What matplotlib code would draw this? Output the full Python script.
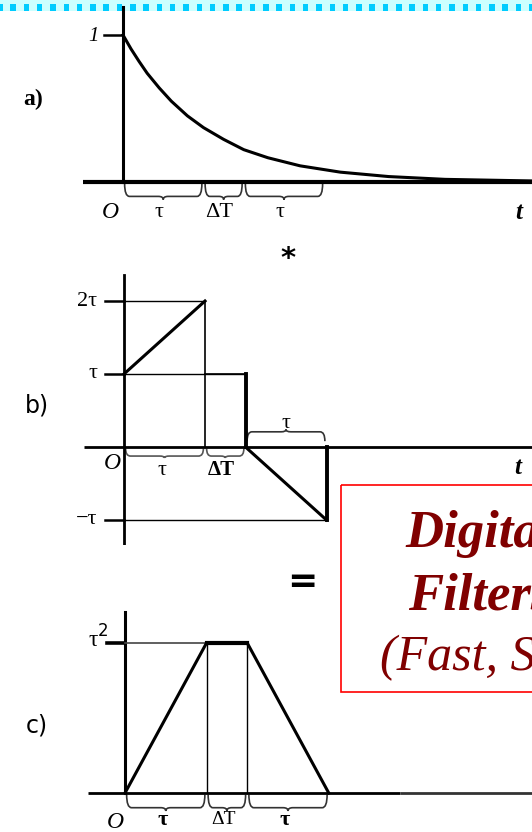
import numpy as np
import matplotlib.pyplot as plt
from matplotlib.path import Path
from matplotlib.patches import PathPatch, Rectangle

# time in units of tau, amplitude in units of 1 (a), tau (b), tau^2 (c)
tau = 1.0
dT = 0.5

# a) exponential pulse
t_exp = [0.0, 0.1, 0.2, 0.3, 0.45, 0.6, 0.8, 1.0, 1.25, 1.5, 1.8, 2.2, 2.7, 3.3, 4.0, 5.2]
y_exp = [1.0, 0.905, 0.82, 0.74, 0.64, 0.55, 0.45, 0.37, 0.29, 0.22, 0.165, 0.11, 0.067, 0.037, 0.018, 0.006]

# b) kernel
t_ker = [0.0, 1.0, 1.0, 1.5, 1.5, 2.5, 2.5]
y_ker = [1.0, 2.0, 1.0, 1.0, 0.0, -1.0, 0.0]

# c) trapezoid result
t_trap = [0.0, 1.0, 1.5, 2.5]
y_trap = [0.0, 1.0, 1.0, 0.0]

seg_edges = [0.0, tau, tau + dT, 2 * tau + dT]
seg_labels = ['τ', 'ΔT', 'τ']

W, H = 532, 832
fig = plt.figure(figsize=(W / 100, H / 100), dpi=100)
fig.patch.set_facecolor('white')

SERIF = ['Liberation Serif', 'DejaVu Serif']

# background layer in pixel units
bg = fig.add_axes([0, 0, 1, 1])
bg.set_xlim(0, W)
bg.set_ylim(H, 0)
bg.axis('off')
bg.add_patch(Rectangle((0, 0), W, 11, color='#ccffff', lw=0))
for xs in np.arange(-3, W, 13.3):
    bg.add_patch(Rectangle((xs, 4), 5.5, 7, color='#00ccff', lw=0))


def panel(top, bot, x0, xs, y0, ys):
    ax = fig.add_axes([0, 1 - bot / H, 1, (bot - top) / H])
    ax.set_xlim(-x0 / xs, (W - x0) / xs)
    ax.set_ylim((y0 - bot) / ys, (y0 - top) / ys)
    ax.axis('off')
    return ax


def brace(ax, x0, x1, y, h, color='#333333', lw=1.2):
    # curly brace from x0 to x1; h < 0 opens downward
    xm = (x0 + x1) / 2
    r = min(0.06, (x1 - x0) / 8)
    ym = y + 0.8 * h
    verts = [(x0, y), (x0, ym), (x0 + r, ym),
             (xm - r, ym), (xm, ym), (xm, y + h),
             (xm, ym), (xm + r, ym),
             (x1 - r, ym), (x1, ym), (x1, y)]
    codes = [Path.MOVETO, Path.CURVE3, Path.CURVE3,
             Path.LINETO, Path.CURVE3, Path.CURVE3,
             Path.CURVE3, Path.CURVE3,
             Path.LINETO, Path.CURVE3, Path.CURVE3]
    ax.add_patch(PathPatch(Path(verts, codes), fill=False, ec=color, lw=lw))


# ---------------- a) ----------------
ax1 = panel(0, 240, 123, 80.5, 182, 147)
ax1.plot([-0.5, 6.0], [0, 0], color='black', lw=3.0, solid_capstyle='butt')
ax1.plot([0, 0], [0, 1.19], color='black', lw=2.2)
ax1.plot([-0.24, 0], [1, 1], color='black', lw=1.8)
ax1.plot(t_exp, y_exp, color='black', lw=2.2)
for i in range(3):
    brace(ax1, seg_edges[i] + 0.02, seg_edges[i + 1] - 0.02, -0.01, -0.11)
ax1.text(-1.12, 0.56, 'a)', fontsize=17, fontweight='bold', family=SERIF, ha='center', va='center')
ax1.text(-0.3, 0.99, '1', fontsize=15, style='italic', family=SERIF, ha='right', va='center')
ax1.text(-0.16, -0.21, 'O', fontsize=17, style='italic', family=SERIF, ha='center', va='center')
for i, lab in enumerate(seg_labels):
    xc = (seg_edges[i] + seg_edges[i + 1]) / 2
    ax1.text(xc - 0.05, -0.21, lab, fontsize=16, family=SERIF, ha='center', va='center')
ax1.text((515 - 123) / 80.5, -0.21, 't', fontsize=18, fontweight='bold', style='italic',
         family=SERIF, ha='left', va='center')
bg.text(288, 259, '*', fontsize=21, fontweight='bold', ha='center', va='center', family=['DejaVu Sans'])

# ---------------- b) ----------------
ax2 = panel(240, 545, 124, 81, 447, 73)
ax2.plot([-0.5, 6.0], [0, 0], color='black', lw=2.0, solid_capstyle='butt')
ax2.plot([0, 0], [-1.35, 2.35], color='black', lw=2.0)
for lvl in [2, 1, -1]:
    ax2.plot([-0.24, 0], [lvl, lvl], color='black', lw=1.8)
# guides
ax2.plot([0, t_ker[1]], [2, 2], color='black', lw=1.0)
ax2.plot([0, t_ker[3]], [1, 1], color='black', lw=1.0)
ax2.plot([0, t_ker[5]], [-1, -1], color='black', lw=1.0)
ax2.plot([t_ker[1], t_ker[1]], [0, 2], color='black', lw=1.2)
# kernel
ax2.plot(t_ker[:2], y_ker[:2], color='black', lw=2.2)
ax2.plot(t_ker[2:4], y_ker[2:4], color='black', lw=1.2)
ax2.plot(t_ker[3:5], y_ker[3:5], color='black', lw=2.8)
ax2.plot(t_ker[4:6], y_ker[4:6], color='black', lw=2.2)
ax2.plot(t_ker[5:7], y_ker[5:7], color='black', lw=2.8)
brace(ax2, 0.02, 0.98, -0.02, -0.13, color='#555555')
brace(ax2, 1.02, 1.48, -0.02, -0.13, color='#555555')
brace(ax2, 1.52, 2.48, 0.08, 0.16, color='#333333')
for lvl, lab in [(2, '2τ'), (1, 'τ'), (-1, '−τ')]:
    ax2.text(-0.33, lvl, lab, fontsize=16, family=SERIF, ha='right', va='center')
ax2.text(-1.08, 0.57, 'b)', fontsize=17, family=['DejaVu Sans'], ha='center', va='center')
ax2.text(-0.15, -0.23, 'O', fontsize=17, style='italic', family=SERIF, ha='center', va='center')
ax2.text(0.47, -0.32, 'τ', fontsize=16, family=SERIF, ha='center', va='center')
ax2.text(1.2, -0.31, 'ΔT', fontsize=15, fontweight='bold', family=SERIF, ha='center', va='center')
ax2.text(2.0, 0.32, 'τ', fontsize=16, family=SERIF, ha='center', va='center')
ax2.text((514 - 124) / 81, -0.28, 't', fontsize=18, fontweight='bold', style='italic',
         family=SERIF, ha='left', va='center')

# ---------------- c) ----------------
ax3 = panel(545, 832, 125, 81.5, 793, 150)
ax3.plot([-0.45, 3.37], [0, 0], color='black', lw=2.0, solid_capstyle='butt')
ax3.plot([3.37, 6.0], [0, 0], color='#333333', lw=2.0, solid_capstyle='butt')
ax3.plot([0, 0], [0, 1.21], color='black', lw=2.2)
ax3.plot([-0.22, 0], [1, 1], color='black', lw=2.6)
ax3.plot([0, t_trap[1]], [1, 1], color='#444444', lw=1.2)
ax3.plot([t_trap[1], t_trap[1]], [0, 1], color='black', lw=1.0)
ax3.plot([t_trap[2], t_trap[2]], [0, 1], color='black', lw=1.0)
ax3.plot(t_trap, y_trap, color='black', lw=2.2)
ax3.plot(t_trap[1:3], y_trap[1:3], color='black', lw=3.0)
for i in range(3):
    brace(ax3, seg_edges[i] + 0.02, seg_edges[i + 1] - 0.02, -0.01, -0.11, color='#333333')
ax3.text(-0.2, 1.03, 'τ$^{2}$', fontsize=17, family=SERIF, ha='right', va='center')
ax3.text(-1.08, 0.45, 'c)', fontsize=17, family=['DejaVu Sans'], ha='center', va='center')
ax3.text(-0.12, -0.2, 'O', fontsize=17, style='italic', family=SERIF, ha='center', va='center')
for i, lab in enumerate(seg_labels):
    xc = (seg_edges[i] + seg_edges[i + 1]) / 2
    ax3.text(xc - 0.04, -0.18, lab, fontsize=16 if lab != 'ΔT' else 14,
             fontweight='bold' if lab != 'ΔT' else 'normal', family=SERIF, ha='center', va='center')
bg.text(302, 582, '=', fontsize=26, fontweight='bold', ha='center', va='center', family=['DejaVu Sans'])

# red text box, running past the right edge
bg.add_patch(Rectangle((341, 485), 300, 207, fill=False, ec='red', lw=1.2))
bg.text(405, 547, 'Digital', fontsize=38, fontweight='bold', style='italic', color='#800000',
        family=SERIF, ha='left', va='baseline')
bg.text(408, 610, 'Filters', fontsize=38, fontweight='bold', style='italic', color='#800000',
        family=SERIF, ha='left', va='baseline')
bg.text(380, 670, '(Fast, Slow)', fontsize=36, style='italic', color='#800000',
        family=SERIF, ha='left', va='baseline')

fig.savefig('out.png', dpi=100)
